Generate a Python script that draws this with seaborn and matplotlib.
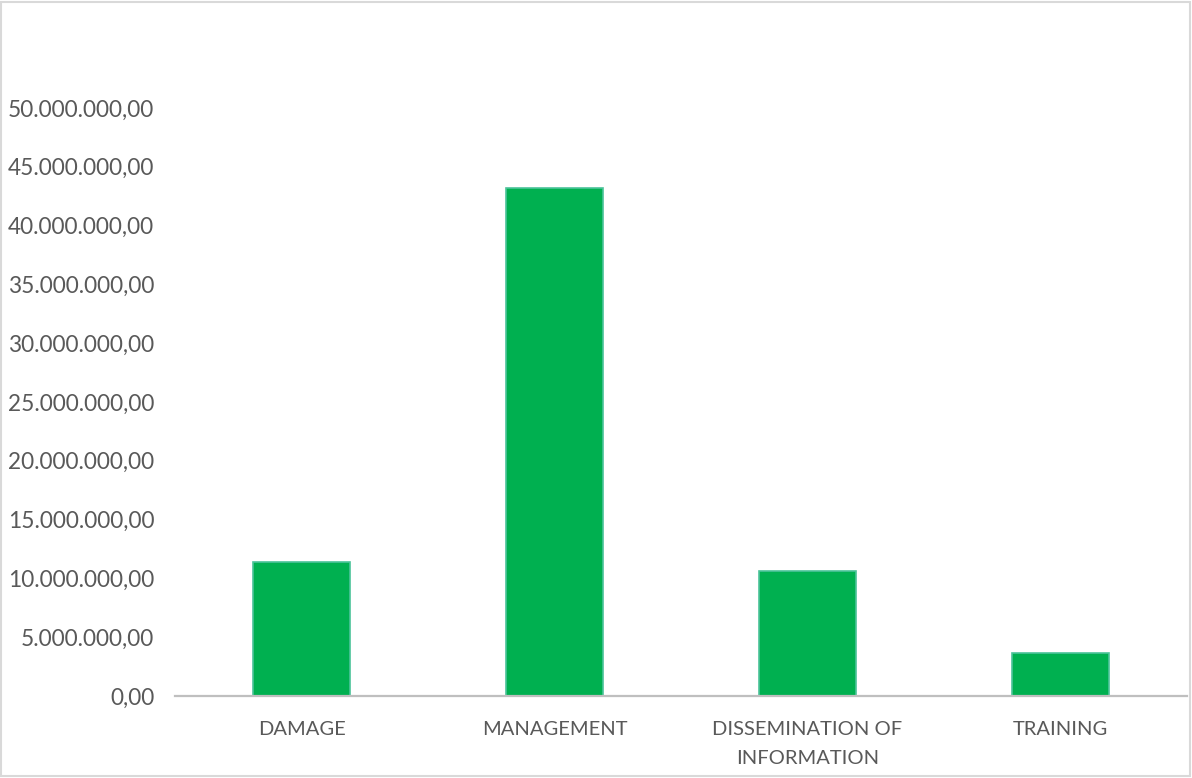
import matplotlib
matplotlib.use('Agg')
import matplotlib.pyplot as plt
import seaborn as sns
import pandas as pd
from matplotlib.ticker import FuncFormatter

categories = ['DAMAGE', 'MANAGEMENT', 'DISSEMINATION OF\nINFORMATION', 'TRAINING']
values = [11390000, 43200000, 10630000, 3660000]

df = pd.DataFrame({'category': categories, 'value': values})

sns.set_theme(style='white')
plt.rcParams['font.family'] = ['Lato', 'DejaVu Sans']

fig = plt.figure(figsize=(11.92, 7.78), dpi=100)
ax = fig.add_axes([175 / 1192, 1 - 696 / 778, 1012 / 1192, (696 - 49.2) / 778])

sns.barplot(data=df, x='category', y='value', color='#00B050', width=0.38,
            edgecolor='#4cc39a', linewidth=1.2, saturation=1, ax=ax)

def fmt(v, pos):
    s = f'{v:,.2f}'
    return s.replace(',', 'X').replace('.', ',').replace('X', '.')

ax.set_ylim(0, 55e6)
ax.set_xlim(-0.5, 3.5)
ax.set_yticks(range(0, 50000001, 5000000))
ax.yaxis.set_major_formatter(FuncFormatter(fmt))
ax.set_xlabel('')
ax.set_ylabel('')

for s in ['top', 'right', 'left']:
    ax.spines[s].set_visible(False)
ax.spines['bottom'].set_color('#BFBFBF')
ax.spines['bottom'].set_linewidth(1.6)

ax.tick_params(axis='both', length=0, colors='#595959')
ax.tick_params(axis='y', pad=15, labelsize=16.3)
ax.tick_params(axis='x', pad=18, labelsize=14.5)
for lab in ax.get_xticklabels():
    lab.set_linespacing(1.85)

# figure border
fig.patches.append(plt.Rectangle((0.001, 0.002), 0.997, 0.996, transform=fig.transFigure,
                                 fill=False, edgecolor='#D9D9D9', linewidth=1.5))

fig.savefig('out.png', dpi=100)
